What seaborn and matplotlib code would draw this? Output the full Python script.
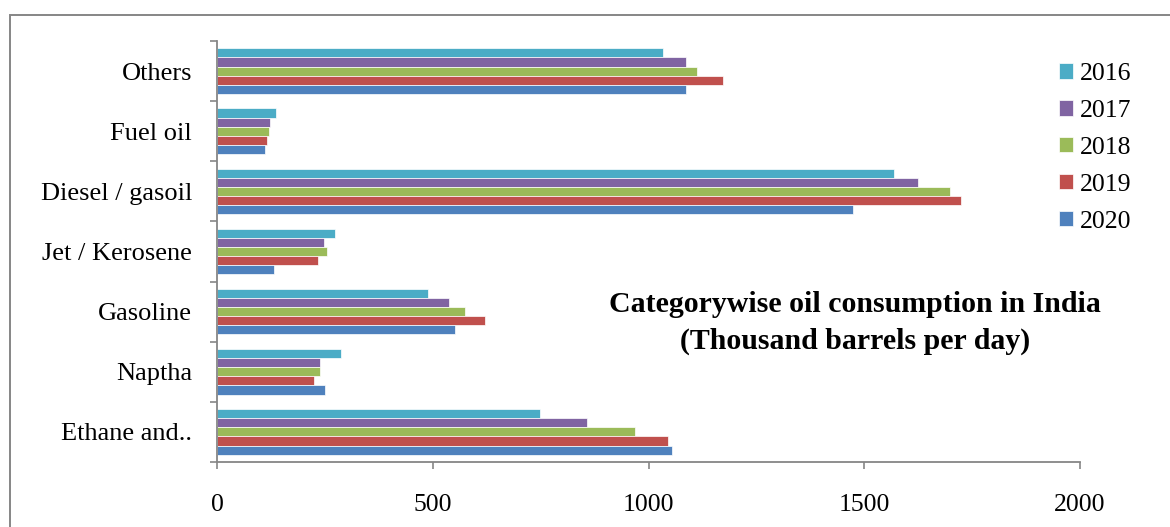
import numpy as np
import pandas as pd
import matplotlib
matplotlib.use("Agg")
import matplotlib.pyplot as plt
import seaborn as sns
from matplotlib.patches import Rectangle

# Oil consumption by product category (thousand barrels per day)
categories = ["Others", "Fuel oil", "Diesel / gasoil", "Jet / Kerosene",
              "Gasoline", "Naptha", "Ethane and.."]
years = ["2016", "2017", "2018", "2019", "2020"]
v2016 = [1034, 136, 1569, 273, 489, 288, 749]
v2017 = [1088, 122, 1625, 249, 538, 238, 857]
v2018 = [1112, 120, 1698, 255, 575, 238, 969]
v2019 = [1173, 115, 1724, 234, 621, 225, 1046]
v2020 = [1088, 111, 1474, 132, 552, 250, 1054]
x_ticks = [0, 500, 1000, 1500, 2000]
colors = ["#4BACC6", "#8064A2", "#9BBB59", "#C0504D", "#4F81BD"]

series = dict(zip(years, [v2016, v2017, v2018, v2019, v2020]))
df = pd.DataFrame(
    [(cat, yr, vals[i]) for yr, vals in series.items() for i, cat in enumerate(categories)],
    columns=["category", "year", "value"],
)

sns.set_theme(style="white")
plt.rcParams["font.family"] = ["Liberation Serif", "DejaVu Serif"]
plt.rcParams["text.color"] = "black"
plt.rcParams["xtick.color"] = "black"
plt.rcParams["ytick.color"] = "black"

W, H = 1170, 527
fig = plt.figure(figsize=(W / 100, H / 100), dpi=100)
ax = fig.add_axes([217 / W, 65 / H, 863 / W, 421 / H])

sns.barplot(data=df, y="category", x="value", hue="year", order=categories,
            hue_order=years, palette=colors, saturation=1, width=0.76, orient="h",
            edgecolor="white", linewidth=0.5, ax=ax)

gray = "#868686"
fs = 18.5
ax.set_xlim(0, 2000)
ax.set_ylim(len(categories) - 0.5, -0.5)
ax.set_xticks(x_ticks)
ax.set_xticklabels([str(t) for t in x_ticks], fontsize=fs, color="black")
ax.set_yticks(range(len(categories)))
ax.set_yticklabels(categories, fontsize=19, color="black")
ax.set_yticks(np.arange(-0.5, len(categories), 1), minor=True)
ax.tick_params(axis="y", which="major", length=0, pad=18)
ax.tick_params(axis="y", which="minor", length=5, width=1.2, color=gray, left=True)
ax.tick_params(axis="x", which="major", length=5, width=1.2, color=gray,
               bottom=True, direction="out", pad=18)
ax.set_xlabel("")
ax.set_ylabel("")
for side in ["top", "right"]:
    ax.spines[side].set_visible(False)
for side in ["left", "bottom"]:
    ax.spines[side].set_color(gray)
    ax.spines[side].set_linewidth(1.3)

handles, labels = ax.get_legend_handles_labels()
if ax.get_legend() is not None:
    ax.get_legend().remove()
fig.legend(handles, labels, loc="upper left",
           bbox_to_anchor=(1059 / W, 1 - 63 / H), bbox_transform=fig.transFigure,
           frameon=False, fontsize=fs, handlelength=0.55, handleheight=0.55,
           handletextpad=0.25, labelspacing=0.58, borderpad=0, borderaxespad=0,
           labelcolor="black")

fig.text(855 / W, 1 - 304 / H, "Categorywise oil consumption in India",
         ha="center", va="center", fontsize=21.5, fontweight="bold", color="black")
fig.text(855 / W, 1 - 341 / H, "(Thousand barrels per day)",
         ha="center", va="center", fontsize=21.5, fontweight="bold", color="black")

# outer chart frame
fig.patches.append(Rectangle((9.5 / W, -0.2), 1.5, 1.2 - 15 / H, transform=fig.transFigure,
                             fill=False, edgecolor=gray, linewidth=1.4))

fig.savefig("out.png", dpi=100)
